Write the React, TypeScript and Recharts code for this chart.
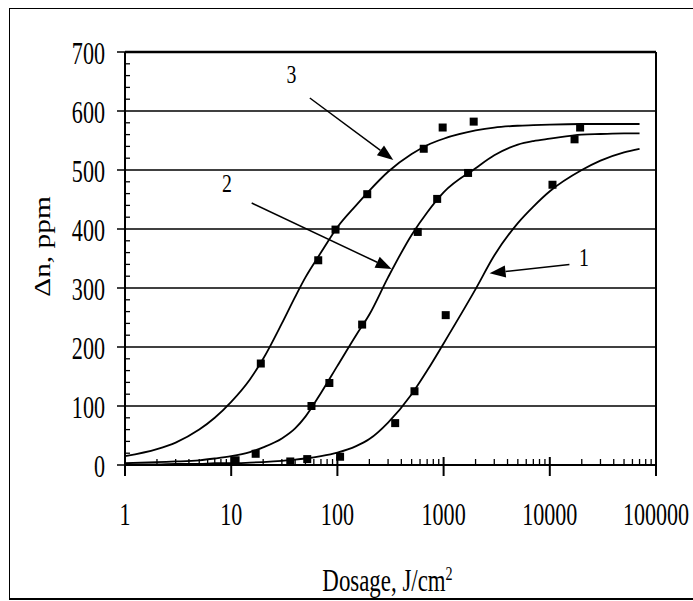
import { ComposedChart, Line, Scatter, XAxis, YAxis, ReferenceLine, ReferenceDot } from 'recharts'

const FONT = '"Liberation Serif", "Times New Roman", serif'

// axis ticks
const decades = [1, 10, 100, 1000, 10000, 100000]
const minorSteps = [2, 3, 4, 5, 6, 7, 8, 9]
const xTicks = decades.flatMap((d) => (d === 100000 ? [d] : [d, ...minorSteps.map((m) => d * m)]))
const yMajor = [0, 100, 200, 300, 400, 500, 600, 700]
const yTicks = [
  0, 20, 40, 60, 80, 100, 120, 140, 160, 180, 200, 220, 240, 260, 280, 300, 320, 340, 360, 380, 400,
  420, 440, 460, 480, 500, 520, 540, 560, 580, 600, 620, 640, 660, 680, 700,
]
const gridValues = [100, 200, 300, 400, 500, 600]

// fitted curves
const curveX = [
  1, 2, 3, 5, 7, 10, 15, 20, 30, 40, 50, 70, 100, 150, 200, 300, 500, 700, 1000, 2000, 3000, 5000,
  7000, 10000, 20000, 30000, 50000, 70000,
]
const curve1Y = [
  1, 1, 2, 2, 3, 3, 4, 5, 7, 9, 11, 15, 21, 32, 44, 72, 120, 160, 206, 298, 355, 410, 438, 464, 500,
  516, 530, 536,
]
const curve2Y = [
  3, 5, 6, 8, 11, 15, 22, 30, 45, 62, 82, 122, 168, 220, 255, 318, 390, 428, 462, 503, 525, 543, 549,
  553, 560, 561, 562, 562,
]
const curve3Y = [
  15, 27, 38, 60, 80, 107, 145, 180, 240, 285, 318, 360, 403, 440, 465, 497, 527, 542, 553, 567, 572,
  575, 576, 577, 578, 578, 578, 578,
]

// measured points
const pts1X = [36, 52, 106, 350, 532, 1047, 10600]
const pts1Y = [6, 10, 14, 71, 125, 254, 475]
const pts2X = [11, 17, 57, 84, 171, 571, 870, 1700, 17100]
const pts2Y = [8, 19, 100, 139, 238, 395, 451, 495, 552]
const pts3X = [19, 66, 96, 191, 650, 980, 1920, 19300]
const pts3Y = [172, 347, 399, 459, 536, 572, 582, 572]

// curve labels and arrows
const labelNames = ['1', '2', '3']
const labelPos = [
  [21000, 351],
  [9.1, 477],
  [37, 661],
]
const arrowFrom = [
  [15300, 340],
  [15.6, 444],
  [55, 622],
]
const arrowTo = [
  [2710, 325],
  [324, 332],
  [336, 517],
]

const zip = (xs: number[], ys: number[]) => xs.map((x, i) => ({ x, y: ys[i] }))

function XTick(props: any) {
  const { x, y, payload } = props
  const v = payload.value
  if (decades.includes(v)) {
    return (
      <g>
        <line x1={x} y1={y - 8} x2={x} y2={y + 11} stroke="#000" strokeWidth={2} />
        <text
          transform={`translate(${x},${y + 60}) scale(0.85,1.2)`}
          textAnchor="middle"
          fontSize={26}
          fontFamily={FONT}
          fill="#000"
        >
          {v}
        </text>
      </g>
    )
  }
  return <line x1={x} y1={y} x2={x} y2={y - 6} stroke="#000" strokeWidth={1.3} />
}

function YTick(props: any) {
  const { x, y, payload } = props
  const v = payload.value
  if (yMajor.includes(v)) {
    return (
      <g>
        <line x1={x - 8} y1={y} x2={x} y2={y} stroke="#000" strokeWidth={1.5} />
        <text
          transform={`translate(${x - 20},${y + 12}) scale(0.85,1.2)`}
          textAnchor="end"
          fontSize={26}
          fontFamily={FONT}
          fill="#000"
        >
          {v}
        </text>
      </g>
    )
  }
  return <line x1={x} y1={y} x2={x + 5} y2={y} stroke="#000" strokeWidth={1.3} />
}

function Square(props: any) {
  const { cx, cy } = props
  return <rect x={cx - 4} y={cy - 4} width={8} height={8} fill="#000" />
}

function Arrow(props: any) {
  const { x1, y1, x2, y2 } = props
  const dx = x2 - x1
  const dy = y2 - y1
  const len = Math.hypot(dx, dy) || 1
  const ux = dx / len
  const uy = dy / len
  const bx = x2 - ux * 16
  const by = y2 - uy * 16
  return (
    <g>
      <line x1={x1} y1={y1} x2={bx} y2={by} stroke="#000" strokeWidth={1.5} />
      <polygon
        points={`${x2},${y2} ${bx - uy * 6},${by + ux * 6} ${bx + uy * 6},${by - ux * 6}`}
        fill="#000"
      />
    </g>
  )
}

const curveLabel = (name: string) => (props: any) => (
  <text
    transform={`translate(${props.cx},${props.cy + 8}) scale(0.9,1.15)`}
    textAnchor="middle"
    fontSize={22}
    fontFamily={FONT}
    fill="#000"
  >
    {name}
  </text>
)

export default function App() {
  return (
    <div style={{ position: 'absolute', left: 0, top: 0, width: 693, height: 601, overflow: 'hidden', background: '#fff' }}>
      <div
        style={{
          position: 'absolute',
          left: 9,
          top: 8,
          width: 700,
          height: 589,
          borderTop: '1.5px solid #000',
          borderLeft: '1.5px solid #000',
          borderBottom: '2px solid #000',
        }}
      />
      <ComposedChart
        width={693}
        height={601}
        margin={{ top: 52, right: 37, bottom: 106, left: 65 }}
        style={{ position: 'absolute', left: 0, top: 0 }}
      >
        <XAxis
          dataKey="x"
          type="number"
          scale="log"
          domain={[1, 100000]}
          ticks={xTicks}
          interval={0}
          allowDataOverflow
          height={30}
          tickSize={0}
          tickMargin={0}
          tickLine={false}
          tick={<XTick />}
          axisLine={{ stroke: '#000', strokeWidth: 2 }}
          label={{
            content: (p: any) => {
              const vb = p.viewBox
              return (
                <text
                  transform={`translate(${vb.x + vb.width / 2 - 3},${vb.y + 126}) scale(0.88,1.2)`}
                  textAnchor="middle"
                  fontSize={26}
                  fontFamily={FONT}
                  fill="#000"
                >
                  Dosage, J/cm
                  <tspan fontSize={16} dy={-9}>
                    2
                  </tspan>
                </text>
              )
            },
          }}
        />
        <YAxis
          type="number"
          domain={[0, 700]}
          ticks={yTicks}
          interval={0}
          width={60}
          tickSize={0}
          tickMargin={0}
          tickLine={false}
          tick={<YTick />}
          axisLine={{ stroke: '#000', strokeWidth: 2 }}
          label={{
            content: (p: any) => {
              const vb = p.viewBox
              return (
                <text
                  transform={`translate(50,${vb.y + vb.height / 2 - 12}) rotate(-90) scale(1.13,0.9)`}
                  textAnchor="middle"
                  fontSize={26}
                  fontWeight="normal"
                  fontFamily={FONT}
                  fill="#000"
                >
                  Δn, ppm
                </text>
              )
            },
          }}
        />
        {gridValues.map((v) => (
          <ReferenceLine key={`g${v}`} y={v} stroke="#000" strokeWidth={1.5} />
        ))}
        <ReferenceLine y={700} stroke="#000" strokeWidth={2.5} />
        <ReferenceLine x={100000} stroke="#000" strokeWidth={2} />
        <Line data={zip(curveX, curve1Y)} dataKey="y" type="monotone" dot={false} stroke="#000" strokeWidth={1.8} isAnimationActive={false} />
        <Line data={zip(curveX, curve2Y)} dataKey="y" type="monotone" dot={false} stroke="#000" strokeWidth={1.8} isAnimationActive={false} />
        <Line data={zip(curveX, curve3Y)} dataKey="y" type="monotone" dot={false} stroke="#000" strokeWidth={1.8} isAnimationActive={false} />
        <Scatter data={zip(pts1X, pts1Y)} dataKey="y" shape={Square} isAnimationActive={false} />
        <Scatter data={zip(pts2X, pts2Y)} dataKey="y" shape={Square} isAnimationActive={false} />
        <Scatter data={zip(pts3X, pts3Y)} dataKey="y" shape={Square} isAnimationActive={false} />
        {labelNames.map((name, i) => (
          <ReferenceLine
            key={`a${name}`}
            segment={[
              { x: arrowFrom[i][0], y: arrowFrom[i][1] },
              { x: arrowTo[i][0], y: arrowTo[i][1] },
            ]}
            ifOverflow="visible"
            shape={Arrow}
          />
        ))}
        {labelNames.map((name, i) => (
          <ReferenceDot
            key={`l${name}`}
            x={labelPos[i][0]}
            y={labelPos[i][1]}
            ifOverflow="visible"
            shape={curveLabel(name)}
          />
        ))}
      </ComposedChart>
    </div>
  )
}
